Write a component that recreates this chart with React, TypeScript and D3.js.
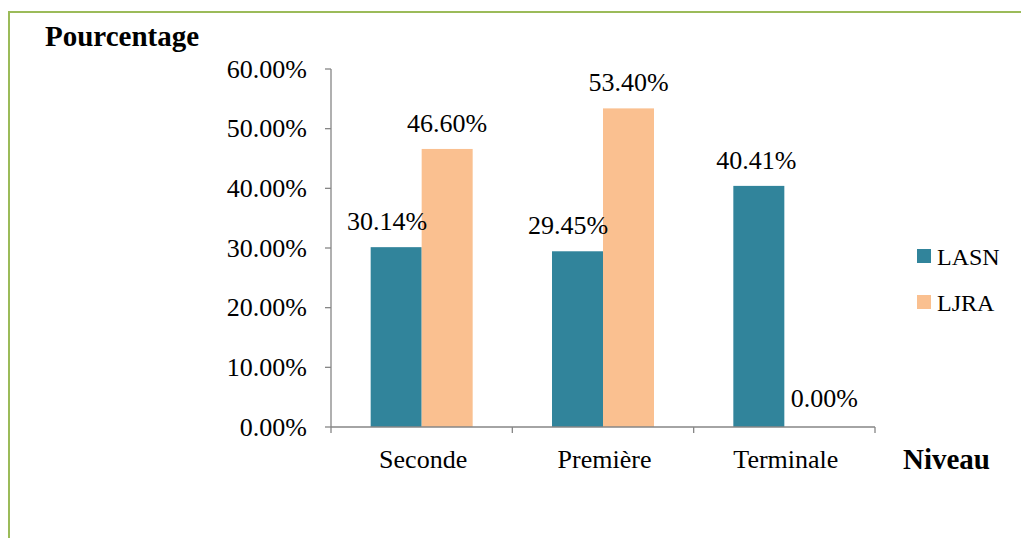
import React from "react";
import * as d3 from "d3";

const categories = ["Seconde", "Première", "Terminale"];
const seriesNames = ["LASN", "LJRA"];
const lasnValues = [30.14, 29.45, 40.41];
const ljraValues = [46.6, 53.4, 0.0];
const yTicks = [0, 10, 20, 30, 40, 50, 60];
const colors = ["#31849b", "#fac090"];

const W = 1021;
const H = 538;
const left = 331;
const right = 875;
const top = 69;
const bottom = 427;
const FONT = "'Liberation Serif', 'Times New Roman', serif";

// manual label nudges (relative to bar centre), as placed in the original
const labelDx = [
  [-9, -9.5, -2.5],
  [0, 0, 14.5],
];

export default function App() {
  const x = d3.scaleBand<string>().domain(categories).range([left, right]).paddingInner(0).paddingOuter(0);
  const y = d3.scaleLinear().domain([0, 60]).range([bottom, top]);
  const bw = 51;
  const series = [lasnValues, ljraValues];

  return (
    <svg width={W} height={H} style={{ position: "absolute", left: 0, top: 0 }}>
      <rect x={0} y={0} width={W} height={H} fill="#fff" />
      <path d={`M9,${H} V12 H${W}`} fill="none" stroke="#9bbb59" strokeWidth={2} />
      <text x={45} y={46} fontFamily={FONT} fontWeight="bold" fontSize={29} fill="#000">Pourcentage</text>
      {/* y axis */}
      <line x1={left} x2={left} y1={top} y2={bottom} stroke="#868686" strokeWidth={1.3} />
      {yTicks.map((t) => (
        <g key={t}>
          <line x1={left - 6} x2={left} y1={y(t)} y2={y(t)} stroke="#868686" strokeWidth={1.3} />
          <text x={307} y={y(t) + 8.5} textAnchor="end" fontFamily={FONT} fontSize={26} fill="#000">
            {t.toFixed(2)}%
          </text>
        </g>
      ))}
      {/* bars */}
      {categories.map((c, i) => {
        const cx = (x(c) as number) + x.bandwidth() / 2;
        return (
          <g key={c}>
            {series.map((vals, s) => {
              const bx = cx - bw + s * bw;
              const v = vals[i];
              return <rect key={s} x={bx} y={y(v)} width={bw} height={bottom - y(v)} fill={colors[s]} />;
            })}
          </g>
        );
      })}
      {/* x axis */}
      <line x1={left} x2={right} y1={bottom} y2={bottom} stroke="#868686" strokeWidth={1.3} />
      {[...categories.map((c) => x(c) as number), right].map((p, i) => (
        <line key={i} x1={p} x2={p} y1={bottom} y2={bottom + 6} stroke="#868686" strokeWidth={1.3} />
      ))}
      {categories.map((c) => (
        <text key={c} x={(x(c) as number) + x.bandwidth() / 2 + 1.5} y={468} textAnchor="middle" fontFamily={FONT} fontSize={26} fill="#000">
          {c}
        </text>
      ))}
      {/* data labels */}
      {categories.map((c, i) => {
        const cx = (x(c) as number) + x.bandwidth() / 2;
        return (
          <g key={c}>
            {series.map((vals, s) => {
              const v = vals[i];
              const bcx = cx - bw / 2 + s * bw;
              return (
                <text
                  key={s}
                  x={bcx + labelDx[s][i]}
                  y={y(v) - (v === 0 ? 20 : 17)}
                  textAnchor="middle"
                  fontFamily={FONT}
                  fontSize={26}
                  fill="#000"
                >
                  {v.toFixed(2)}%
                </text>
              );
            })}
          </g>
        );
      })}
      <text x={903} y={469} fontFamily={FONT} fontWeight="bold" fontSize={29} fill="#000">Niveau</text>
      {/* legend */}
      {seriesNames.map((n, s) => (
        <g key={n}>
          <rect x={917} y={249 + s * 46} width={14} height={14} fill={colors[s]} />
          <text x={937} y={265 + s * 46} fontFamily={FONT} fontSize={24} fill="#000">{n}</text>
        </g>
      ))}
    </svg>
  );
}
